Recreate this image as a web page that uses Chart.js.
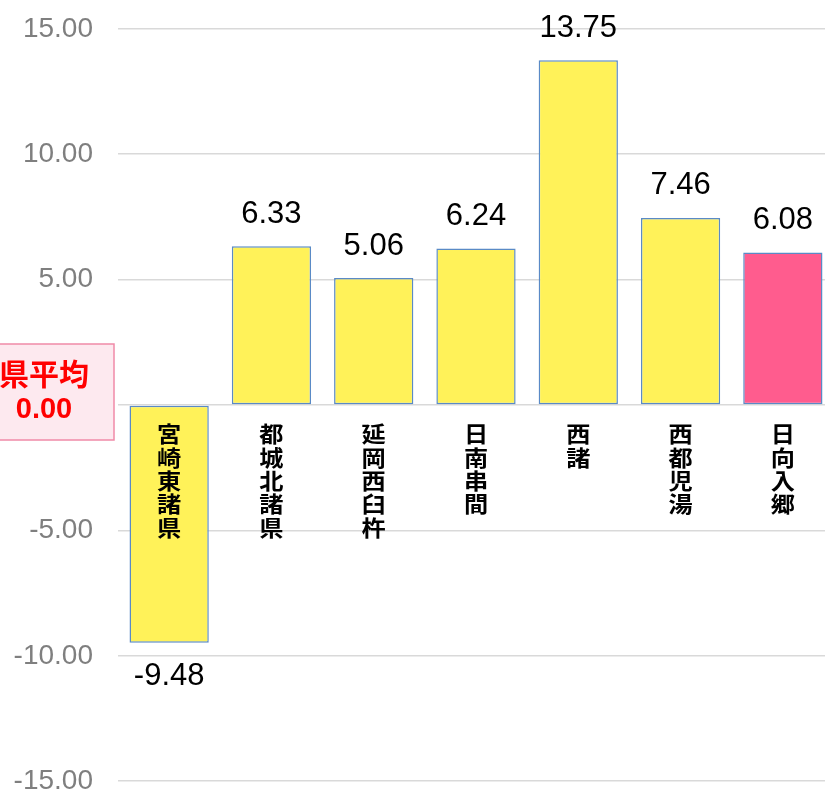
<!DOCTYPE html>
<html>
<head>
<meta charset="utf-8">
<script src="https://cdn.jsdelivr.net/npm/chart.js@4"></script>
<style>
  html, body { margin: 0; padding: 0; overflow: hidden; background: #fff; }
  #chart { display: block; margin-top: -13px; }
</style>
</head>
<body>
<canvas id="chart" width="834" height="836"></canvas>
<script>
// Data
const areas = ["宮崎東諸県", "都城北諸県", "延岡西臼杵", "日南串間", "西諸", "西都児湯", "日向入郷"];
const diffs = [-9.48, 6.33, 5.06, 6.24, 13.75, 7.46, 6.08];
const barColors = ["#fff259", "#fff259", "#fff259", "#fff259", "#fff259", "#fff259", "#ff5c8e"];
const yTicks = [-15, -10, -5, 0, 5, 10, 15];
const avgLabel = ["県平均", "0.00"];

// value labels above / below each bar
const valueLabels = {
    id: 'valueLabels',
    afterDatasetsDraw(chart) {
        const ctx = chart.ctx;
        const meta = chart.getDatasetMeta(0);
        ctx.save();
        ctx.font = '31px "Liberation Sans", Arial, sans-serif';
        ctx.fillStyle = '#000';
        ctx.textAlign = 'center';
        ctx.textBaseline = 'middle';
        meta.data.forEach((bar, i) => {
            const v = diffs[i];
            const y = v >= 0 ? bar.y - 32 : bar.y + 34;
            ctx.fillText(v.toFixed(2), bar.x, y);
        });
        ctx.restore();
    }
};

// vertical area names under the zero line
const areaNames = {
    id: 'areaNames',
    afterDatasetsDraw(chart) {
        const ctx = chart.ctx;
        const x = chart.scales.x;
        const y0 = chart.scales.y.getPixelForValue(0);
        ctx.save();
        ctx.fillStyle = '#000';
        ctx.textAlign = 'center';
        ctx.textBaseline = 'middle';
        ctx.font = 'bold 22px "Noto Sans CJK JP", sans-serif';
        areas.forEach((name, i) => {
            const cx = x.getPixelForValue(i);
            name.split('').forEach((ch, j) => {
                ctx.save();
                ctx.translate(cx, y0 + 29 + j * 23.3);
                ctx.scale(1.1, 1);
                ctx.fillText(ch, 0, 0);
                ctx.restore();
            });
        });
        ctx.restore();
    }
};

// "県平均 0.00" box on the zero line
const avgBox = {
    id: 'avgBox',
    afterDraw(chart) {
        const ctx = chart.ctx;
        const y0 = chart.scales.y.getPixelForValue(0);
        ctx.save();
        ctx.fillStyle = '#fde9ef';
        ctx.strokeStyle = '#f08aa8';
        ctx.lineWidth = 1.5;
        ctx.fillRect(-10, y0 - 61, 124, 96);
        ctx.strokeRect(-10, y0 - 61, 124, 96);
        ctx.fillStyle = '#ff0000';
        ctx.textAlign = 'center';
        ctx.textBaseline = 'middle';
        ctx.font = 'bold 30px "Noto Sans CJK JP", sans-serif';
        ctx.fillText(avgLabel[0], 44, y0 - 31);
        ctx.font = 'bold 29px "Liberation Sans", Arial, sans-serif';
        ctx.fillText(avgLabel[1], 44, y0 + 5);
        ctx.restore();
    }
};

new Chart(document.getElementById('chart').getContext('2d'), {
    type: 'bar',
    data: {
        labels: areas,
        datasets: [{
            data: diffs,
            backgroundColor: barColors,
            borderColor: '#5a8ac6',
            borderWidth: 1.5,
            borderSkipped: false,
            barPercentage: 0.775,
            categoryPercentage: 1
        }]
    },
    options: {
        responsive: false,
        animation: false,
        layout: { padding: { top: 16, bottom: 10, left: 0, right: 0 } },
        plugins: {
            legend: { display: false },
            tooltip: { enabled: false }
        },
        scales: {
            x: {
                display: false
            },
            y: {
                min: -15,
                max: 15,
                afterFit(scale) { scale.width = 118; },
                afterBuildTicks(scale) { scale.ticks = yTicks.map(v => ({ value: v })); },
                grid: { color: '#d9d9d9', lineWidth: 1.5, drawTicks: false },
                border: { display: false },
                ticks: {
                    color: '#7f7f7f',
                    padding: 25,
                    font: { family: '"Liberation Sans", Arial, sans-serif', size: 28 },
                    callback: v => v.toFixed(2)
                }
            }
        }
    },
    plugins: [valueLabels, areaNames, avgBox]
});
</script>
</body>
</html>
